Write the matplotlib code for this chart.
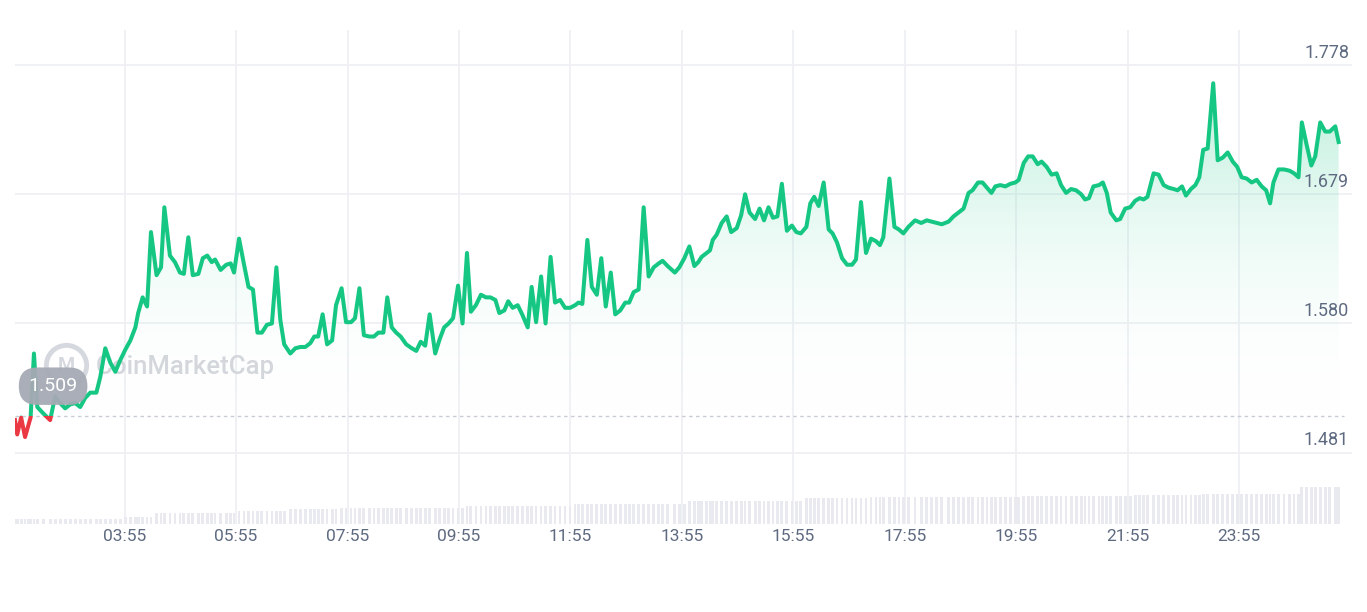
import matplotlib
matplotlib.use('Agg')
import matplotlib.pyplot as plt
import numpy as np
from matplotlib.colors import LinearSegmentedColormap
from matplotlib.patches import Rectangle, Polygon
from matplotlib.transforms import blended_transform_factory

plt.rcParams['font.family'] = ['Roboto', 'DejaVu Sans']

# DATA: time in hours since 00:00 of first day, price, volume
hours = [
    1.95, 1.99, 2.06, 2.13, 2.19, 2.23, 2.29, 2.35, 2.46, 2.58,
    2.67, 2.76, 2.85, 2.94, 3.03, 3.12, 3.21, 3.30, 3.41, 3.48,
    3.57, 3.66, 3.75, 3.84, 3.93, 4.02, 4.11, 4.16, 4.24, 4.32,
    4.39, 4.49, 4.57, 4.63, 4.73, 4.82, 4.91, 4.98, 5.06, 5.14,
    5.24, 5.32, 5.40, 5.48, 5.54, 5.64, 5.74, 5.82, 5.88, 5.97,
    6.06, 6.14, 6.22, 6.30, 6.38, 6.47, 6.56, 6.64, 6.71, 6.78,
    6.89, 6.98, 7.07, 7.16, 7.25, 7.32, 7.39, 7.47, 7.55, 7.64,
    7.71, 7.81, 7.89, 7.98, 8.05, 8.13, 8.21, 8.31, 8.39, 8.47,
    8.56, 8.63, 8.71, 8.79, 8.87, 8.97, 9.07, 9.15, 9.23, 9.31,
    9.39, 9.49, 9.57, 9.65, 9.73, 9.81, 9.90, 9.98, 10.06, 10.13,
    10.22, 10.31, 10.40, 10.48, 10.57, 10.64, 10.73, 10.80, 10.88, 10.97,
    11.05, 11.15, 11.22, 11.30, 11.39, 11.47, 11.56, 11.64, 11.73, 11.82,
    11.91, 12.00, 12.06, 12.13, 12.22, 12.30, 12.39, 12.47, 12.55, 12.64,
    12.72, 12.81, 12.90, 12.97, 13.05, 13.14, 13.23, 13.32, 13.41, 13.50,
    13.57, 13.66, 13.79, 13.87, 13.96, 14.05, 14.14, 14.21, 14.27, 14.36,
    14.42, 14.47, 14.54, 14.63, 14.72, 14.80, 14.90, 14.98, 15.05, 15.13,
    15.23, 15.31, 15.39, 15.47, 15.55, 15.63, 15.71, 15.80, 15.89, 15.97,
    16.05, 16.15, 16.22, 16.29, 16.37, 16.46, 16.55, 16.62, 16.70, 16.79,
    16.88, 16.97, 17.04, 17.13, 17.22, 17.31, 17.40, 17.47, 17.53, 17.64,
    17.73, 17.81, 17.89, 17.98, 18.10, 18.21, 18.31, 18.40, 18.49, 18.58,
    18.70, 18.79, 18.88, 18.97, 19.06, 19.13, 19.23, 19.31, 19.39, 19.47,
    19.54, 19.63, 19.72, 19.81, 19.90, 19.96, 20.05, 20.13, 20.21, 20.30,
    20.37, 20.46, 20.55, 20.64, 20.72, 20.81, 20.90, 20.99, 21.08, 21.15,
    21.22, 21.30, 21.40, 21.47, 21.54, 21.61, 21.71, 21.78, 21.87, 21.96,
    22.05, 22.13, 22.20, 22.27, 22.38, 22.47, 22.56, 22.65, 22.74, 22.81,
    22.89, 22.96, 23.05, 23.13, 23.20, 23.27, 23.35, 23.45, 23.53, 23.62,
    23.71, 23.80, 23.88, 23.96, 24.05, 24.14, 24.23, 24.32, 24.40, 24.47,
    24.53, 24.62, 24.72, 24.82, 24.90, 24.98, 25.04, 25.12, 25.21, 25.28,
    25.37, 25.46, 25.54, 25.64, 25.70,
]

prices = [
    1.506, 1.495, 1.508, 1.493, 1.502, 1.508, 1.557, 1.516, 1.511, 1.506,
    1.524, 1.519, 1.515, 1.518, 1.519, 1.516, 1.523, 1.527, 1.527, 1.539,
    1.561, 1.550, 1.543, 1.552, 1.560, 1.567, 1.577, 1.588, 1.600, 1.593,
    1.650, 1.617, 1.623, 1.669, 1.632, 1.627, 1.619, 1.618, 1.646, 1.617,
    1.618, 1.630, 1.632, 1.627, 1.629, 1.621, 1.625, 1.626, 1.619, 1.645,
    1.625, 1.608, 1.606, 1.573, 1.573, 1.579, 1.580, 1.623, 1.583, 1.564,
    1.557, 1.561, 1.562, 1.562, 1.565, 1.570, 1.570, 1.587, 1.564, 1.567,
    1.594, 1.607, 1.581, 1.581, 1.584, 1.607, 1.571, 1.570, 1.570, 1.573,
    1.573, 1.600, 1.577, 1.573, 1.570, 1.564, 1.561, 1.559, 1.566, 1.563,
    1.587, 1.557, 1.568, 1.577, 1.580, 1.584, 1.609, 1.580, 1.634, 1.589,
    1.594, 1.602, 1.600, 1.600, 1.598, 1.588, 1.590, 1.597, 1.592, 1.594,
    1.587, 1.577, 1.608, 1.581, 1.616, 1.580, 1.631, 1.596, 1.598, 1.592,
    1.592, 1.594, 1.596, 1.595, 1.644, 1.608, 1.602, 1.630, 1.593, 1.619,
    1.587, 1.590, 1.596, 1.596, 1.604, 1.606, 1.669, 1.616, 1.623, 1.626,
    1.628, 1.624, 1.619, 1.623, 1.630, 1.639, 1.624, 1.627, 1.631, 1.634,
    1.636, 1.644, 1.648, 1.657, 1.662, 1.650, 1.653, 1.663, 1.679, 1.665,
    1.660, 1.668, 1.659, 1.669, 1.661, 1.662, 1.687, 1.651, 1.655, 1.650,
    1.649, 1.654, 1.672, 1.677, 1.670, 1.688, 1.652, 1.649, 1.642, 1.630,
    1.625, 1.625, 1.629, 1.673, 1.634, 1.645, 1.643, 1.640, 1.646, 1.691,
    1.654, 1.652, 1.649, 1.654, 1.659, 1.657, 1.659, 1.658, 1.657, 1.656,
    1.658, 1.662, 1.665, 1.668, 1.680, 1.682, 1.688, 1.688, 1.684, 1.680,
    1.685, 1.686, 1.685, 1.687, 1.688, 1.690, 1.703, 1.708, 1.708, 1.702,
    1.704, 1.700, 1.694, 1.695, 1.686, 1.680, 1.683, 1.682, 1.679, 1.675,
    1.676, 1.685, 1.686, 1.688, 1.680, 1.665, 1.659, 1.660, 1.668, 1.669,
    1.674, 1.676, 1.675, 1.677, 1.695, 1.694, 1.686, 1.684, 1.683, 1.682,
    1.685, 1.678, 1.683, 1.686, 1.692, 1.713, 1.714, 1.764, 1.705, 1.707,
    1.711, 1.704, 1.700, 1.692, 1.691, 1.688, 1.690, 1.685, 1.682, 1.672,
    1.688, 1.698, 1.698, 1.697, 1.695, 1.692, 1.734, 1.718, 1.701, 1.708,
    1.734, 1.727, 1.727, 1.731, 1.719,
]

volumes = [
    4.7, 4.7, 4.7, 4.7, 4.7, 4.7, 4.7, 4.7, 4.7, 4.7,
    4.7, 4.7, 4.7, 4.7, 4.7, 4.7, 4.7, 4.7, 4.7, 4.7,
    4.7, 4.7, 4.7, 4.7, 7.3, 7.3, 7.3, 7.3, 7.3, 7.3,
    7.3, 10.7, 10.7, 10.7, 10.7, 10.7, 10.7, 10.7, 10.7, 10.7,
    10.7, 10.7, 10.7, 10.7, 10.7, 10.7, 10.7, 10.7, 10.7, 13.3,
    13.3, 13.3, 13.3, 13.3, 13.3, 13.3, 13.3, 13.3, 13.3, 13.3,
    14.7, 14.7, 14.7, 14.7, 14.7, 14.7, 14.7, 14.7, 14.7, 14.7,
    14.7, 15.7, 15.7, 15.7, 15.7, 15.7, 15.7, 15.7, 15.7, 15.7,
    15.7, 15.7, 15.7, 15.7, 15.7, 16.5, 16.5, 16.5, 16.5, 16.5,
    16.5, 16.5, 16.5, 16.5, 16.5, 16.5, 16.5, 16.5, 18.0, 18.0,
    18.0, 18.0, 18.0, 18.0, 18.0, 18.0, 18.0, 18.0, 18.0, 18.0,
    18.0, 18.0, 18.0, 18.0, 18.0, 18.0, 18.0, 18.0, 18.0, 18.0,
    18.0, 20.0, 20.0, 20.0, 20.0, 20.0, 20.0, 20.0, 20.0, 20.0,
    20.0, 20.0, 20.0, 20.0, 20.0, 20.0, 20.0, 20.0, 20.0, 20.0,
    20.0, 20.0, 20.0, 20.0, 20.0, 23.0, 23.0, 23.0, 23.0, 23.0,
    23.0, 23.0, 23.0, 23.0, 23.0, 23.0, 23.0, 23.0, 23.0, 23.0,
    23.0, 23.0, 23.0, 23.0, 23.0, 23.0, 23.0, 23.0, 23.0, 23.0,
    23.0, 26.0, 26.0, 26.0, 26.0, 26.0, 26.0, 26.0, 26.0, 26.0,
    26.0, 26.0, 26.0, 26.0, 26.0, 27.5, 27.5, 27.5, 27.5, 27.5,
    27.5, 27.5, 27.5, 27.5, 27.5, 27.5, 27.5, 27.5, 27.5, 27.5,
    27.5, 27.5, 27.5, 27.5, 27.5, 27.5, 27.5, 27.5, 27.5, 27.5,
    27.5, 27.5, 27.5, 27.5, 27.5, 27.5, 28.5, 28.5, 28.5, 28.5,
    28.5, 28.5, 28.5, 28.5, 28.5, 28.5, 28.5, 28.5, 28.5, 28.5,
    28.5, 28.5, 28.5, 28.5, 28.5, 28.5, 28.5, 28.5, 28.5, 28.5,
    29.5, 29.5, 29.5, 29.5, 29.5, 29.5, 29.5, 29.5, 29.5, 29.5,
    29.5, 29.5, 29.5, 29.5, 29.5, 30.5, 30.5, 30.5, 30.5, 30.5,
    30.5, 30.5, 30.5, 30.5, 30.5, 30.5, 30.5, 30.5, 30.5, 30.5,
    30.5, 30.5, 30.5, 30.5, 30.5, 30.5, 37.0, 37.0, 37.0, 37.0,
    37.0, 37.0, 37.0, 37.0, 37.0,
]

base_price = 1.509
price_ticks = [1.481, 1.580, 1.679, 1.778]
time_labels = ['03:55', '05:55', '07:55', '09:55', '11:55', '13:55',
               '15:55', '17:55', '19:55', '21:55', '23:55']

GREEN = '#16c784'
RED = '#ea3943'
GRID = '#eef0f4'
TEXT = '#5e6a80'

time_ticks = [int(t[:2]) + int(t[3:]) / 60 for t in time_labels]
hours = np.array(hours)
prices = np.array(prices)

W, H = 1367, 612
fig = plt.figure(figsize=(W / 100, H / 100), dpi=100)
fig.patch.set_facecolor('white')
ax = fig.add_axes([15 / W, 88 / H, 1337 / W, 494 / H])
xmin, xmax = 1.95, 25.94
ymin, ymax = 1.4264, 1.8048
ax.set_xlim(xmin, xmax)
ax.set_ylim(ymin, ymax)
ax.set_facecolor('none')
for s in ax.spines.values():
    s.set_visible(False)

# grid
ax.set_xticks(time_ticks)
ax.set_xticklabels(time_labels, fontsize=12.5, color=TEXT)
ax.tick_params(axis='x', length=0, pad=3.5)
ax.set_yticks([])
for t in time_ticks:
    ax.axvline(t, color=GRID, lw=1.3, zorder=0)
for p in price_ticks:
    ax.axhline(p, color=GRID, lw=1.3, zorder=0)
    ax.annotate(f'{p:.3f}', xy=(0.9978, p), xycoords=blended_transform_factory(ax.transAxes, ax.transData),
                xytext=(0, 2.5), textcoords='offset points', ha='right', va='bottom',
                fontsize=13, color=TEXT, zorder=6)

# volume
vax = ax.twinx()
vax.set_ylim(0, 494)
vax.set_yticks([])
vax.patch.set_visible(False)
for s in vax.spines.values():
    s.set_visible(False)
vax.bar(hours, volumes, width=0.05, color='#e8eaef', zorder=1)

# gradient fill between line and base
grad = np.linspace(0, 1, 256).reshape(-1, 1)
cmap = LinearSegmentedColormap.from_list('g', [(1, 1, 1, 0), (22 / 255, 199 / 255, 132 / 255, 0.32)])
im = ax.imshow(grad, extent=[hours[0], hours[-1], base_price, 1.778], origin='lower',
               aspect='auto', cmap=cmap, zorder=2)
poly_pts = [(hours[0], base_price)] + list(zip(hours, np.maximum(prices, base_price))) + [(hours[-1], base_price)]
clip = Polygon(poly_pts, closed=True, facecolor='none', edgecolor='none', transform=ax.transData)
ax.add_patch(clip)
im.set_clip_path(clip)

# baseline
ax.plot([xmin, hours[-1] + 0.1], [base_price, base_price], color='#c8ccd4', lw=1,
        ls=(0, (2.5, 2.5)), zorder=3)

# watermark
ax.plot([0.0385], [0.322], marker='o', ms=29, mfc='none', mec='#d5d8de', mew=3.5,
        transform=ax.transAxes, zorder=1.5)
ax.text(0.0385, 0.322, 'M', transform=ax.transAxes, ha='center', va='center',
        fontsize=14, fontweight='bold', color='#d5d8de', zorder=1.5)
ax.text(0.0605, 0.318, 'CoinMarketCap', transform=ax.transAxes, ha='left', va='center',
        fontsize=18.5, fontweight='medium', color='#d3d6dc', zorder=1.5)

# price line, green above base and red below
g_line, = ax.plot(hours, prices, color=GREEN, lw=2.9, zorder=4, solid_joinstyle='round')
r_line, = ax.plot(hours, prices, color=RED, lw=2.9, zorder=4, solid_joinstyle='round')
g_line.set_clip_path(Rectangle((xmin, base_price), xmax - xmin, ymax - base_price, transform=ax.transData))
r_line.set_clip_path(Rectangle((xmin, ymin), xmax - xmin, base_price - ymin, transform=ax.transData))

# current price badge
ax.text(0.0285, 0.279, '1.509', transform=ax.transAxes, ha='center', va='center',
        fontsize=14, color='white', zorder=7,
        bbox=dict(boxstyle='round,pad=0.5,rounding_size=0.95', fc='#a5aab4', ec='none', alpha=0.95))

fig.savefig('out.png', dpi=100)
